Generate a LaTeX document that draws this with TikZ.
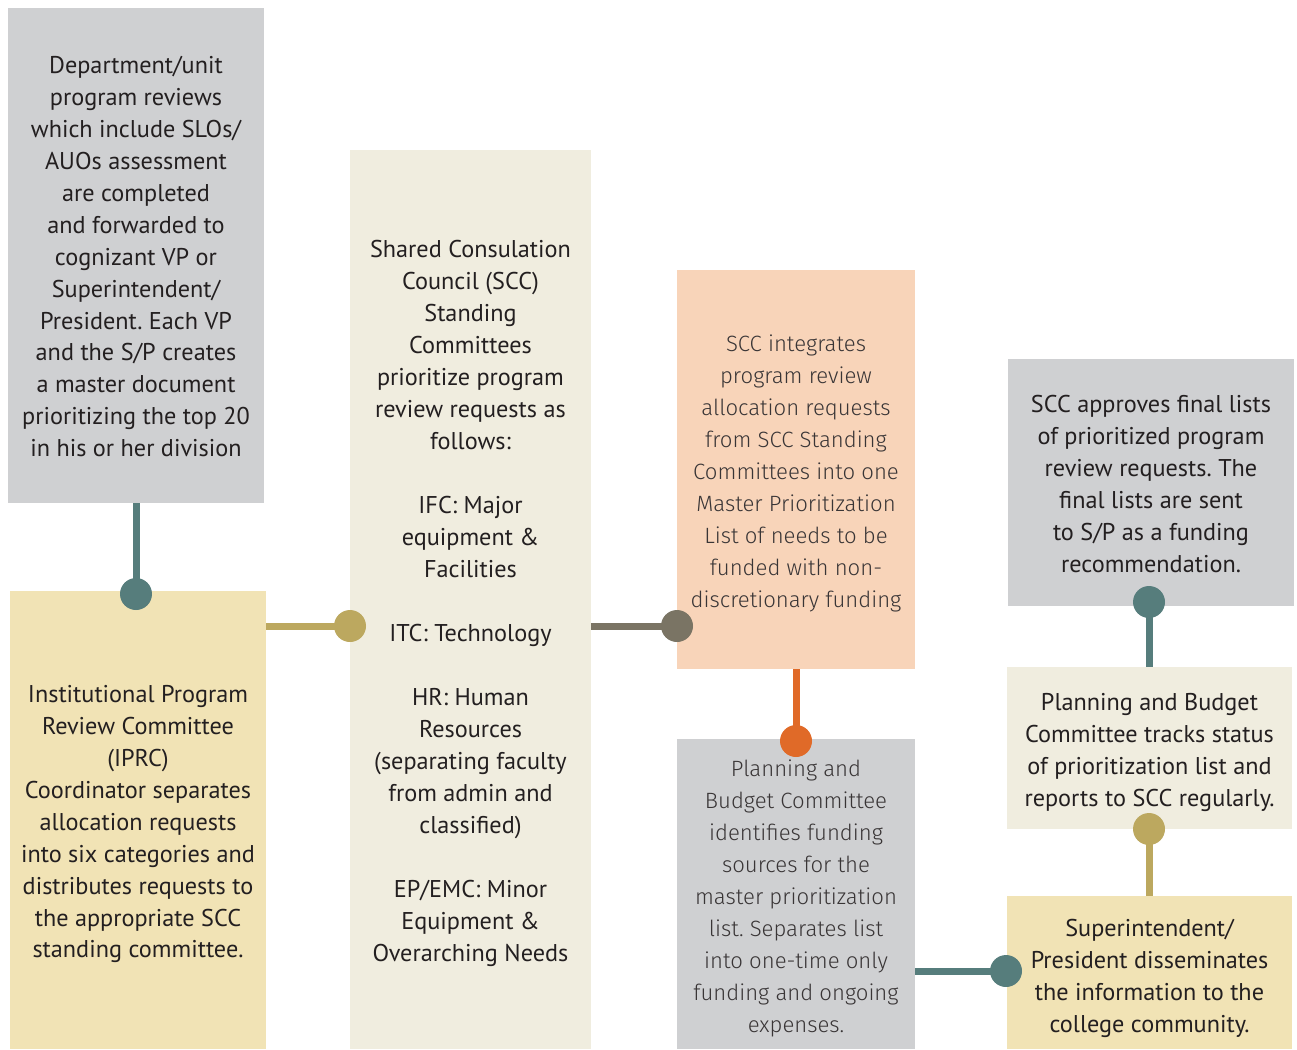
\documentclass[tikz,border=0pt]{standalone}
\usepackage{fontspec}
\setmainfont{PT Sans}
\newfontfamily\lightfont{Fira Sans}[UprightFont=* Light]
\frenchspacing
\begin{document}
\definecolor{boxgray}{HTML}{CFD0D2}
\definecolor{boxsand}{HTML}{F1E3B5}
\definecolor{boxcream}{HTML}{F0EDDF}
\definecolor{boxpeach}{HTML}{F8D4B9}
\definecolor{linkteal}{HTML}{567D7C}
\definecolor{linkolive}{HTML}{BCA85F}
\definecolor{linkstone}{HTML}{7A7464}
\definecolor{linkorange}{HTML}{E06A28}
\definecolor{ink}{HTML}{231F20}
\begin{tikzpicture}[x=0.02cm,y=-0.02cm,
  stepbox/.style={rectangle,inner sep=0pt},
  bodytext/.style={align=center,text=ink,inner sep=0pt,yshift=-2.3pt,
    font={\fontsize{13.8}{18.2}\selectfont}},
  lighttext/.style={bodytext,
    font={\lightfont\fontsize{12.6}{18.2}\selectfont},text=ink!90},
  link/.style={line width=0.14cm},
  dot/.style={circle,inner sep=0pt,minimum size=0.64cm}]
\useasboundingbox (0,0) rectangle (1297,1049);

\node[stepbox,fill=boxgray,minimum width=5.12cm,minimum height=9.9cm,
  label={[bodytext,yshift=1.7pt]center:{Department/unit\\program reviews\\which include SLOs/\\AUOs assessment\\are completed\\and forwarded to\\cognizant VP or\\Superintendent/\\President. Each VP\\and the S/P creates\\a master document\\prioritizing the top 20\\in his or her division}}]
  (dept) at (136,255.5) {};

\node[stepbox,fill=boxsand,minimum width=5.12cm,minimum height=9.16cm,
  label={[bodytext]center:{Institutional Program\\Review Committee\\(IPRC)\\Coordinator separates\\allocation requests\\into six categories and\\distributes requests to\\the appropriate SCC\\standing committee.}}]
  (iprc) at (138,820) {};

\node[stepbox,fill=boxcream,minimum width=4.82cm,minimum height=17.98cm,
  label={[bodytext]center:{Shared Consulation\\Council (SCC)\\Standing\\Committees\\prioritize program\\review requests as\\follows:\\[18.2pt]IFC: Major\\equipment \&\\Facilities\\[18.2pt]ITC: Technology\\[18.2pt]HR: Human\\Resources\\(separating faculty\\from admin and\\classified)\\[18.2pt]EP/EMC: Minor\\Equipment \&\\Overarching Needs}}]
  (scc) at (470.5,599.5) {};

\node[stepbox,fill=boxpeach,minimum width=4.76cm,minimum height=7.98cm,
  label={[lighttext]center:{SCC integrates\\program review\\allocation requests\\from SCC Standing\\Committees into one\\Master Prioritization\\List of needs to be\\funded with non-\\discretionary funding}}]
  (master) at (796,469.5) {};

\node[stepbox,fill=boxgray,minimum width=4.76cm,minimum height=6.2cm,
  label={[lighttext]center:{Planning and\\Budget Committee\\identifies funding\\sources for the\\master prioritization\\list. Separates list\\into one-time only\\funding and ongoing\\expenses.}}]
  (sources) at (796,894) {};

\node[stepbox,fill=boxgray,minimum width=5.72cm,minimum height=4.94cm,
  label={[bodytext,yshift=1.4pt]center:{SCC approves final lists\\of prioritized program\\review requests. The\\final lists are sent\\to S/P as a funding\\recommendation.}}]
  (approve) at (1151,482.5) {};

\node[stepbox,fill=boxcream,minimum width=5.7cm,minimum height=3.24cm,
  label={[bodytext]center:{Planning and Budget\\Committee tracks status\\of prioritization list and\\reports to SCC regularly.}}]
  (track) at (1149.5,748) {};

\node[stepbox,fill=boxsand,minimum width=5.7cm,minimum height=3.06cm,
  label={[bodytext,yshift=-1.1pt]center:{Superintendent/\\President disseminates\\the information to the\\college community.}}]
  (dissem) at (1149.5,972.5) {};

% joint positions
\coordinate (j1) at (136,594);
\coordinate (j2) at (350,626);
\coordinate (j3) at (677,626);
\coordinate (j4) at (796,741);
\coordinate (j5) at (1006,971);
\coordinate (j6) at (1149,602);
\coordinate (j7) at (1149,829);

% connectors
\draw[link,linkteal] (dept.south -| j1) -- (j1);
\draw[link,linkolive] (iprc.east |- j2) -- (j2);
\draw[link,linkstone] (scc.east |- j3) -- (j3);
\draw[link,linkorange] (master.south -| j4) -- (j4);
\draw[link,linkteal] (sources.east |- j5) -- (j5);
\draw[link,linkteal] (j6) -- (track.north -| j6);
\draw[link,linkolive] (j7) -- (dissem.north -| j7);

% joint dots
\node[dot,fill=linkteal] (d1) at (j1) {};
\node[dot,fill=linkolive] (d2) at (j2) {};
\node[dot,fill=linkstone] (d3) at (j3) {};
\node[dot,fill=linkorange] (d4) at (j4) {};
\node[dot,fill=linkteal] (d5) at (j5) {};
\node[dot,fill=linkteal] (d6) at (j6) {};
\node[dot,fill=linkolive] (d7) at (j7) {};
\end{tikzpicture}
\end{document}
